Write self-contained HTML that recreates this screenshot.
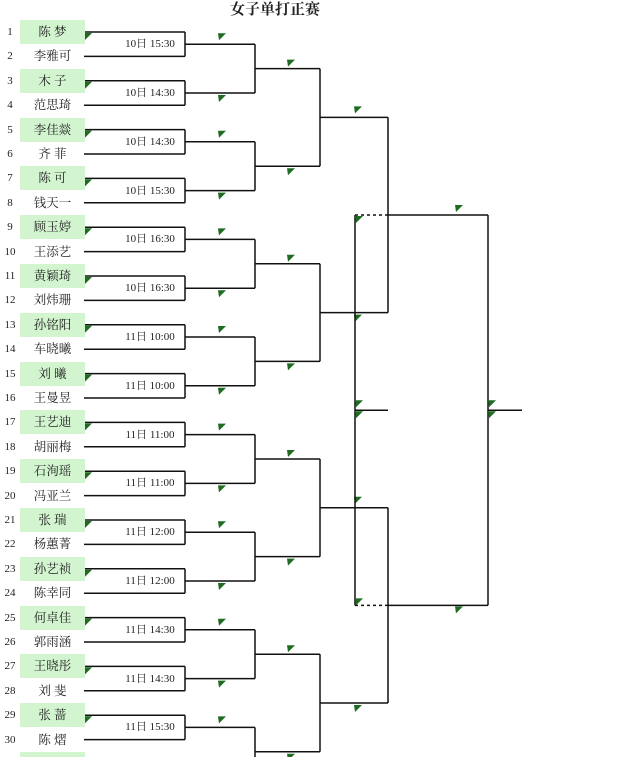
<!DOCTYPE html>
<html style="overflow:hidden;height:757px"><head><meta charset="utf-8"><style>
body{margin:0;background:#fff;width:640px;height:757px;overflow:hidden;position:relative;font-family:"Liberation Serif","Noto Serif CJK SC",serif;color:#222}
.t{position:absolute;left:0;top:0;font-size:15px;font-weight:bold;width:550px;text-align:center;line-height:20px}
.n{position:absolute;left:0;width:20px;text-align:center;font-size:11px;line-height:14px}
.g{position:absolute;left:20px;width:65px;height:24px;background:#d2f5cf}
.m{position:absolute;left:20px;width:65px;text-align:center;font-size:12.5px;line-height:16px}
.d{position:absolute;left:118px;width:64px;text-align:center;font-size:11px;line-height:14px}
svg{position:absolute;left:0;top:0}
</style></head><body>
<div class="t">女子单打正赛</div>
<svg id="s" width="640" height="757"></svg>
<div id="txt"></div>
<div style="display:none">
<span>陈 梦</span><span>李雅可</span><span>木 子</span><span>范思琦</span><span>李佳燚</span><span>齐 菲</span><span>陈 可</span><span>钱天一</span><span>顾玉婷</span><span>王添艺</span><span>黄颖琦</span><span>刘炜珊</span><span>孙铭阳</span><span>车晓曦</span><span>刘 曦</span><span>王曼昱</span><span>王艺迪</span><span>胡丽梅</span><span>石洵瑶</span><span>冯亚兰</span><span>张 瑞</span><span>杨蕙菁</span><span>孙艺祯</span><span>陈幸同</span><span>何卓佳</span><span>郭雨涵</span><span>王晓彤</span><span>刘 斐</span><span>张 蔷</span><span>陈 熠</span>
</div>
<script>
var names=["陈 梦","李雅可","木 子","范思琦","李佳燚","齐 菲","陈 可","钱天一","顾玉婷","王添艺","黄颖琦","刘炜珊","孙铭阳","车晓曦","刘 曦","王曼昱","王艺迪","胡丽梅","石洵瑶","冯亚兰","张 瑞","杨蕙菁","孙艺祯","陈幸同","何卓佳","郭雨涵","王晓彤","刘 斐","张 蔷","陈 熠","",""];
var dates=["10日 15:30","10日 14:30","10日 14:30","10日 15:30","10日 16:30","10日 16:30","11日 10:00","11日 10:00","11日 11:00","11日 11:00","11日 12:00","11日 12:00","11日 14:30","11日 14:30","11日 15:30",""];
var p=24.4,h="",s="";
function L(x1,y1,x2,y2,dash){s+='<line x1="'+x1+'" y1="'+y1+'" x2="'+x2+'" y2="'+y2+'" stroke="#111" stroke-width="1.5"'+(dash?' stroke-dasharray="3,3"':'')+'/>';}
function F(x,y){s+='<polygon points="'+x+','+y+' '+(x+8)+','+y+' '+(x+1)+','+(y+7)+'" fill="#1f6b22"/>';}
for(var r=0;r<31;r++){var y=32+r*p;
 if(r%2==0)h+='<div class="g" style="top:'+(y-12)+'px"></div>';
 if(r<30)h+='<div class="n" style="top:'+(y-7)+'px">'+(r+1)+'</div>';
 if(names[r])h+='<div class="m" style="top:'+(y-8)+'px">'+names[r]+'</div>';}
var m1=[];
for(var i=0;i<16;i++){var t=32+48.8*i,b=t+24.4,mid=t+12.2;m1.push(mid);
 L(84,t,185,t);L(84,b,185,b);L(185,t,185,b);L(185,mid,255,mid);F(84,t+1);
 if(dates[i])h+='<div class="d" style="top:'+(mid-7)+'px">'+dates[i]+'</div>';
 if(i%2==0)F(218,mid-11);else F(218,mid+2);}
var m2=[];
for(var j=0;j<8;j++){var a=m1[2*j],c=m1[2*j+1],mm=(a+c)/2;m2.push(mm);L(255,a,255,c);L(255,mm,320,mm);
 if(j%2==0)F(287,mm-9);else F(287,mm+2);}
var m3=[];
for(var k=0;k<4;k++){var a=m2[2*k],c=m2[2*k+1],mm=(a+c)/2;m3.push(mm);L(320,a,320,c);L(320,mm,388,mm);}
F(354,m3[0]-11);F(354,m3[1]+2);F(354,m3[2]-11);F(354,m3[3]+2);
var s1=(m3[0]+m3[1])/2,s2=(m3[2]+m3[3])/2;
L(388,m3[0],388,m3[1]);L(388,m3[2],388,m3[3]);
L(388,s1,488,s1);L(388,s2,488,s2);L(355,s1,388,s1,1);L(355,s2,388,s2,1);
L(355,s1,355,s2);var f=(s1+s2)/2;L(355,f,388,f);F(355,s1+1);F(355,f-10);F(355,f+1);F(355,s2-7);
F(455,s1-10);F(455,s2+1);
L(488,s1,488,s2);L(488,f,522,f);F(488,f-10);F(488,f+1);
document.getElementById('s').innerHTML=s;document.getElementById('txt').innerHTML=h;
</script>
</body></html>
